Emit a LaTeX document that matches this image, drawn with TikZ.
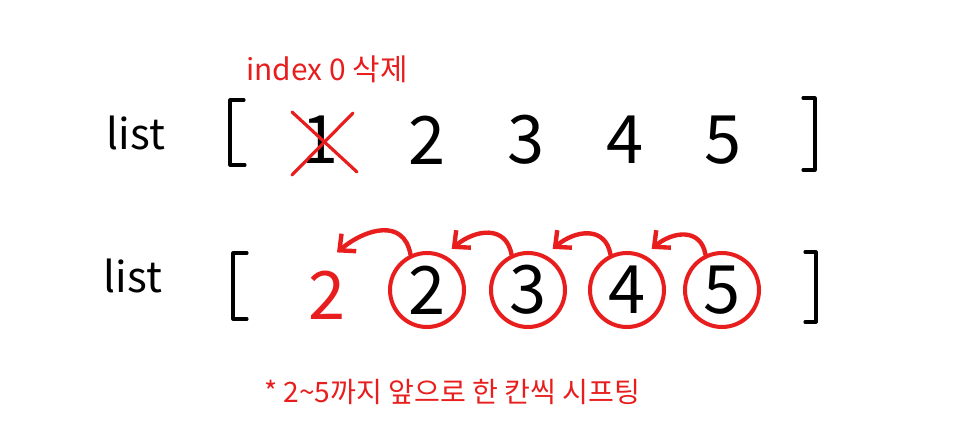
\documentclass[tikz,border=0pt]{standalone}
\usepackage{fontspec}
\setmainfont{Noto Sans CJK KR}
\usepackage{tikz}
\usetikzlibrary{arrows.meta}
\definecolor{penred}{RGB}{232,30,30}

\begin{document}
\begin{tikzpicture}[x=0.02cm, y=0.02cm,
  digit/.style={inner sep=0pt, font=\fontsize{38}{38}\selectfont},
  ring/.style={draw=penred, line width=2.3pt, circle, minimum size=1.48cm, inner sep=0pt, font=\fontsize{38}{38}\selectfont},
  bracket/.style={line width=1.8pt, line cap=round, line join=round},
  move/.style={penred, line width=2.5pt, line cap=round, line join=round, looseness=1.3, -{Straight Barb[length=7pt,width=13pt]}}]
\useasboundingbox (0,0) rectangle (960,430);

% Before removal
\node[font=\fontsize{24}{24}\selectfont] (list1) at (136,297) {list};
\draw[bracket] (244,330) -- (230,330) -- (230,265) -- (245,265);
\draw[bracket] (803,332) -- (815,332) -- (815,260) -- (803,260);
\node[digit] (one) at (320,290) {1};
\node[digit] (a2) at (427,290) {2};
\node[digit] (a3) at (526,290) {3};
\node[digit] (a4) at (625,290) {4};
\node[digit] (a5) at (723,290) {5};

% Removed element
\draw[penred, line width=1.8pt, line cap=round] ([shift={(-28,28)}]one.center) -- ([shift={(37,-32)}]one.center);
\draw[penred, line width=1.8pt, line cap=round] ([shift={(33,27)}]one.center) -- ([shift={(-28,-35)}]one.center);
\node[penred, font=\fontsize{17}{17}\selectfont] (del) at (327,361) {index 0 삭제};

% After removal
\node[font=\fontsize{24}{24}\selectfont] (list2) at (133,154) {list};
\draw[bracket] (247,177) -- (233,177) -- (233,111) -- (247,111);
\draw[bracket] (805,178) -- (816,178) -- (816,108) -- (805,108);
\node[digit, penred] (two) at (327,135) {2};
\node[ring] (c2) at (427,140) {2};
\node[ring] (c3) at (528,140) {3};
\node[ring] (c4) at (627,140) {4};
\node[ring] (c5) at (722,140) {5};

% Shifts
\draw[move] (c2.115) to[out=100, in=40] ([shift={(10,18)}]two.north);
\draw[move] (c3.115) to[out=100, in=40] ([shift={(4,8)}]c2.58);
\draw[move] (c4.115) to[out=100, in=40] ([shift={(4,8)}]c3.58);
\draw[move] (c5.115) to[out=100, in=40] ([shift={(4,8)}]c4.58);

% Note
\node[penred, font=\fontsize{16}{16}\selectfont] (note) at (452,38) {* 2\textasciitilde 5까지 앞으로 한 칸씩 시프팅};
\end{tikzpicture}
\end{document}
